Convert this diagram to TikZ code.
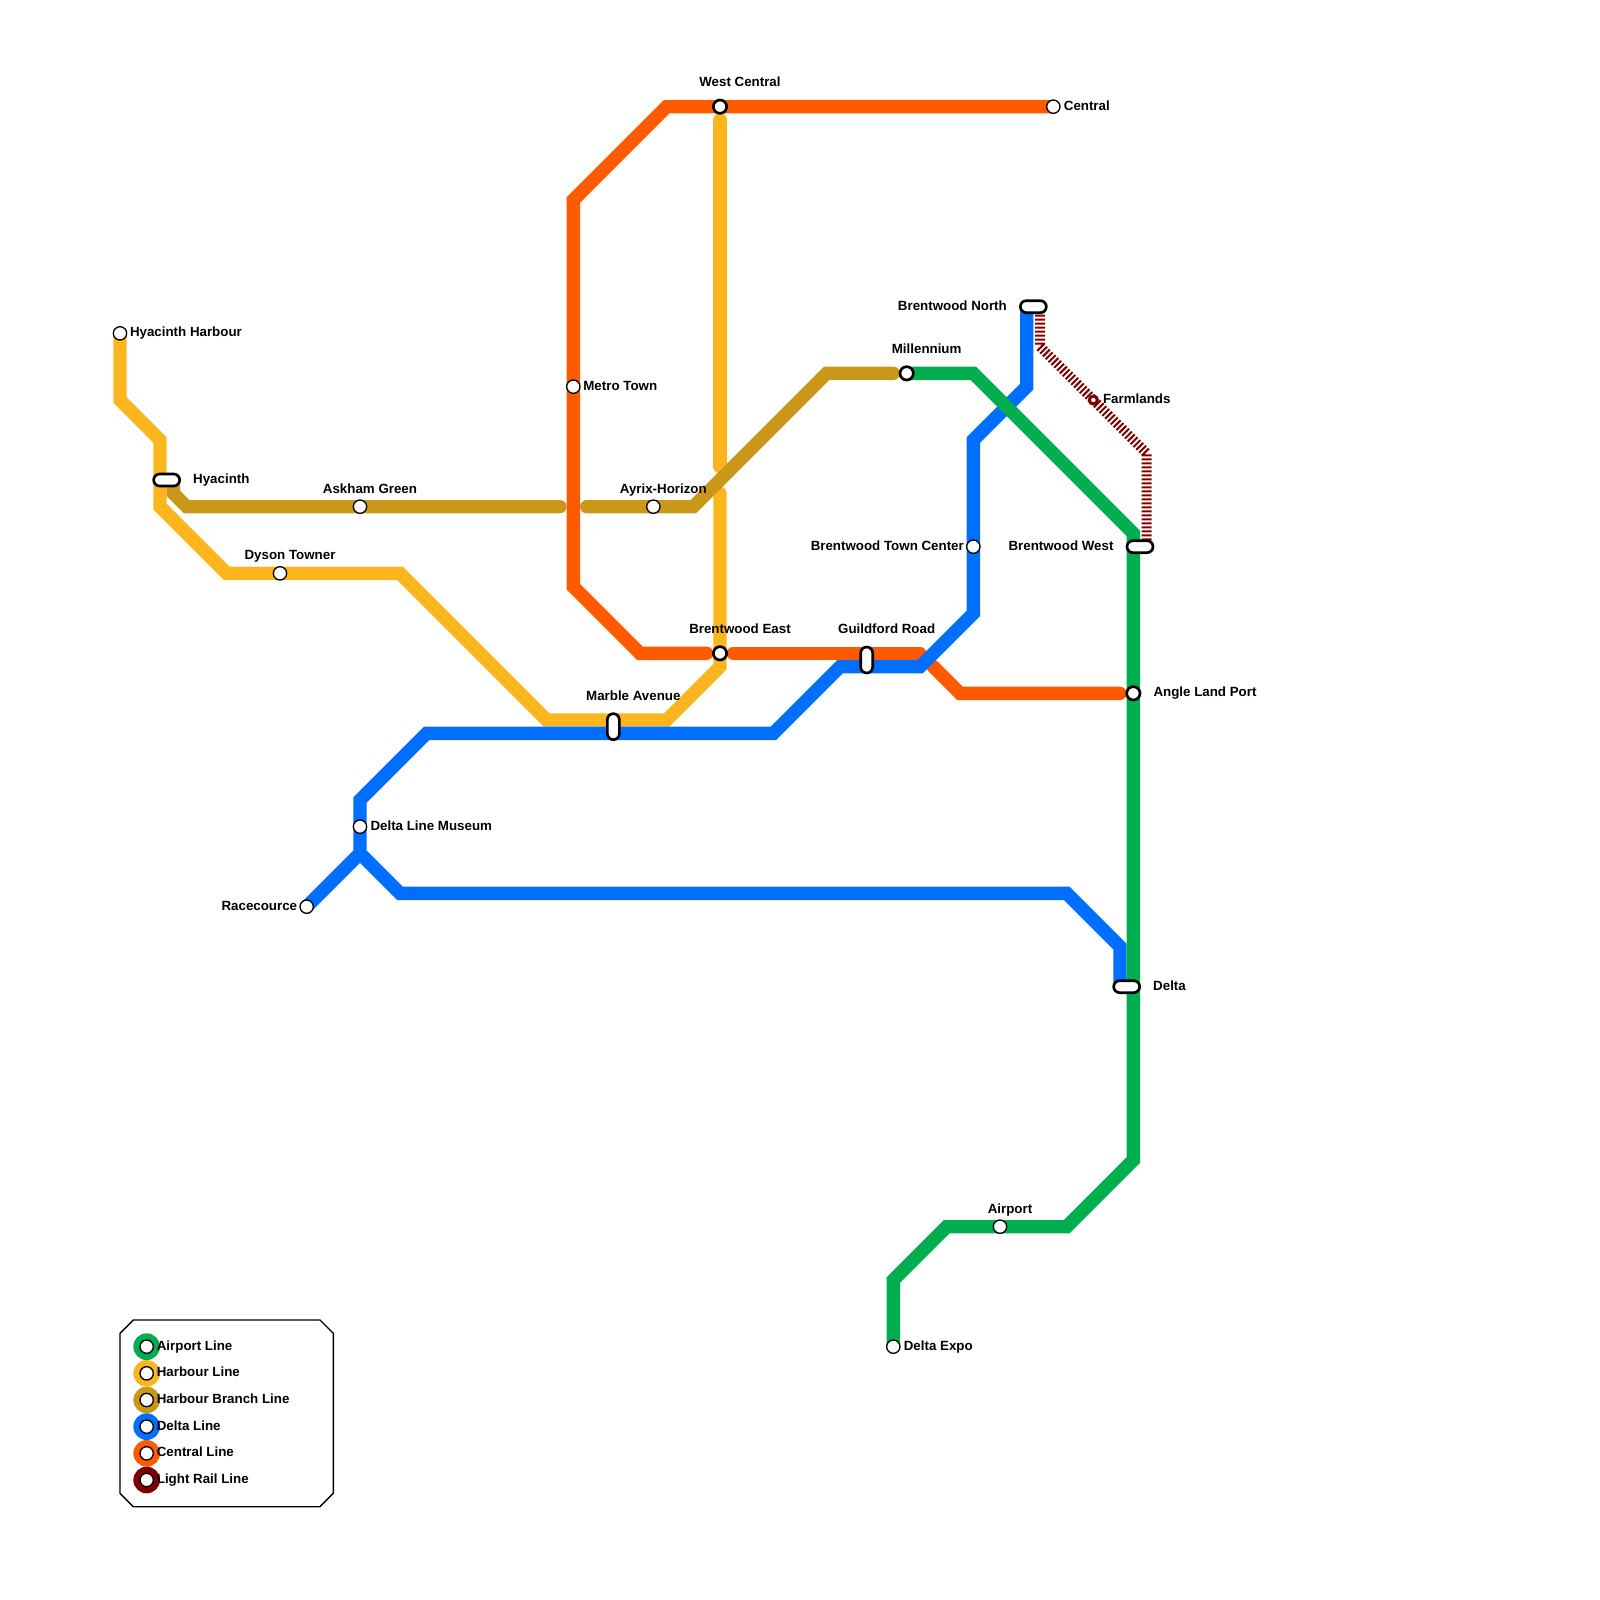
\documentclass[tikz,border=0pt]{standalone}
\usepackage{fontspec}
\setmainfont{Liberation Sans}
\usepackage{xcolor}
\usepackage{tikz}
\usetikzlibrary{positioning, backgrounds}

\definecolor{airportcol}{HTML}{00AE4F}
\definecolor{harbourcol}{HTML}{FBB61E}
\definecolor{branchcol}{HTML}{CA9718}
\definecolor{deltacol}{HTML}{006EFF}
\definecolor{centralcol}{HTML}{FF5A00}
\definecolor{lightcol}{HTML}{800000}

\tikzset{
    metro/.style={line width=13.33pt, line cap=round, line join=miter},
    lightrail/.style={line width=10pt, draw=lightcol, dash pattern=on 2pt off 2pt, line join=miter},
    stop/.style={circle, draw=black, fill=white, line width=1.33pt, minimum size=13.33pt, inner sep=0pt},
    hub/.style={stop, line width=2.67pt},
    tinystop/.style={circle, draw=lightcol, fill=white, line width=3pt, minimum size=8pt, inner sep=0pt},
    pillh/.style={rectangle, draw=black, fill=white, line width=2.67pt, rounded corners=6pt, minimum width=26pt, minimum height=12pt, inner sep=0pt},
    pillv/.style={pillh, minimum width=12pt, minimum height=26pt},
    lbl/.style={font=\bfseries\fontsize{13.33pt}{15pt}\selectfont, inner sep=0pt, text height=9.6pt, text depth=2.8pt},
    legdot/.style={circle, minimum size=26.67pt, inner sep=0pt}
}

\begin{document}
\begin{tikzpicture}[x=13.3333pt, y=-13.3333pt]
    \useasboundingbox (0,0) rectangle (120,120);

    % stations
    \node[stop] (hyharbour) at (9,25) {};
    \node[pillh] (hyacinth) at (12.5,36) {};
    \node[stop] (askham) at (27,38) {};
    \node[stop] (dyson) at (21,43) {};
    \node[pillv] (marble) at (46,54.5) {};
    \node[stop] (metrotown) at (43,29) {};
    \node[stop] (ayrix) at (49,38) {};
    \node[hub] (westcentral) at (54,8) {};
    \node[stop] (central) at (79,8) {};
    \node[hub] (bweast) at (54,49) {};
    \node[pillv] (guildford) at (65,49.5) {};
    \node[hub] (millennium) at (68,28) {};
    \node[pillh] (bwnorth) at (77.5,23) {};
    \node[tinystop] (farmlands) at (82,30) {};
    \node[stop] (bwtown) at (73,41) {};
    \node[pillh] (bwwest) at (85.5,41) {};
    \node[hub] (angleland) at (85,52) {};
    \node[pillh] (deltastn) at (84.5,74) {};
    \node[stop] (airport) at (75,92) {};
    \node[stop] (deltaexpo) at (67,101) {};
    \node[stop] (museum) at (27,62) {};
    \node[stop] (racecource) at (23,68) {};

    % lines
    \begin{scope}[on background layer]
        \draw[lightrail] (78,23) -- (78,26) -- (86,34) -- (86,41);
        \draw[metro, centralcol] (central.center) -- (50,8) -- (43,15) -- (43,44) -- (48,49) -- (53,49);
        \draw[metro, centralcol] (55,49) -- (69,49);
        \draw[metro, centralcol] (70,50) -- (72,52) -- (84,52);
        \draw[metro, harbourcol] (hyharbour.center) -- (9,30) -- (12,33) -- (12,38) -- (17,43) -- (30,43) -- (41,54) -- (50,54) -- (54,50) -- (54,37);
        \draw[metro, harbourcol] (54,35) -- (54,9);
        \draw[metro, branchcol] (13,36) -- (13,37) -- (14,38) -- (42,38);
        \draw[metro, branchcol] (44,38) -- (52,38) -- (62,28) -- (67,28);
        \draw[metro, deltacol] (77,23) -- (77,29) -- (73,33) -- (73,46) -- (69,50) -- (63,50) -- (58,55) -- (32,55) -- (27,60) -- (27,64) -- (30,67) -- (80,67) -- (84,71) -- (84,74);
        \draw[metro, deltacol] (racecource.center) -- (27,64);
        \draw[metro, airportcol] (millennium.center) -- (73,28) -- (85,40) -- (85,87) -- (80,92) -- (71,92) -- (67,96) -- (deltaexpo.center);
    \end{scope}

    % labels
    \node[lbl, right=2.5pt of hyharbour] (hyharbourl) {Hyacinth Harbour};
    \node[lbl, right=12pt of hyacinth] (hyacinthl) {Hyacinth};
    \node[lbl, above=3pt of askham, xshift=10pt] (askhaml) {Askham Green};
    \node[lbl, above=4pt of dyson, xshift=10pt] (dysonl) {Dyson Towner};
    \node[lbl, above=9pt of marble, xshift=20pt] (marblel) {Marble Avenue};
    \node[lbl, right=2.5pt of metrotown] (metrotownl) {Metro Town};
    \node[lbl, above=3pt of ayrix, xshift=10pt] (ayrixl) {Ayrix-Horizon};
    \node[lbl, above=9pt of westcentral, xshift=20pt] (westcentrall) {West Central};
    \node[lbl, right=3pt of central] (centrall) {Central};
    \node[lbl, above=9pt of bweast, xshift=20pt] (bweastl) {Brentwood East};
    \node[lbl, above=9pt of guildford, xshift=20pt] (guildfordl) {Guildford Road};
    \node[lbl, above=9pt of millennium, xshift=20pt] (millenniuml) {Millennium};
    \node[lbl, left=12pt of bwnorth] (bwnorthl) {Brentwood North};
    \node[lbl, right=4pt of farmlands] (farmlandsl) {Farmlands};
    \node[lbl, left=2pt of bwtown] (bwtownl) {Brentwood Town Center};
    \node[lbl, left=12pt of bwwest] (bwwestl) {Brentwood West};
    \node[lbl, right=12pt of angleland] (anglelandl) {Angle Land Port};
    \node[lbl, right=12pt of deltastn] (deltastnl) {Delta};
    \node[lbl, above=3pt of airport, xshift=10pt] (airportl) {Airport};
    \node[lbl, right=3pt of deltaexpo] (deltaexpol) {Delta Expo};
    \node[lbl, right=3pt of museum] (museuml) {Delta Line Museum};
    \node[lbl, left=2pt of racecource] (racecourcel) {Racecource};

    % legend
    \draw[line width=1.33pt] (10,99) -- (24,99) -- (25,100) -- (25,112) -- (24,113) -- (10,113) -- (9,112) -- (9,100) -- cycle;
    \foreach \rowy/\col/\txt in {101/airportcol/Airport Line, 103/harbourcol/Harbour Line, 105/branchcol/Harbour Branch Line, 107/deltacol/Delta Line, 109/centralcol/Central Line, 111/lightcol/Light Rail Line} {
        \node[legdot, fill=\col] (legdot\rowy) at (11,\rowy) {};
        \node[stop] (legstop\rowy) at (11,\rowy) {};
        \node[lbl, anchor=west] (legtxt\rowy) at (11.75,\rowy) {\txt};
    }
\end{tikzpicture}
\end{document}
